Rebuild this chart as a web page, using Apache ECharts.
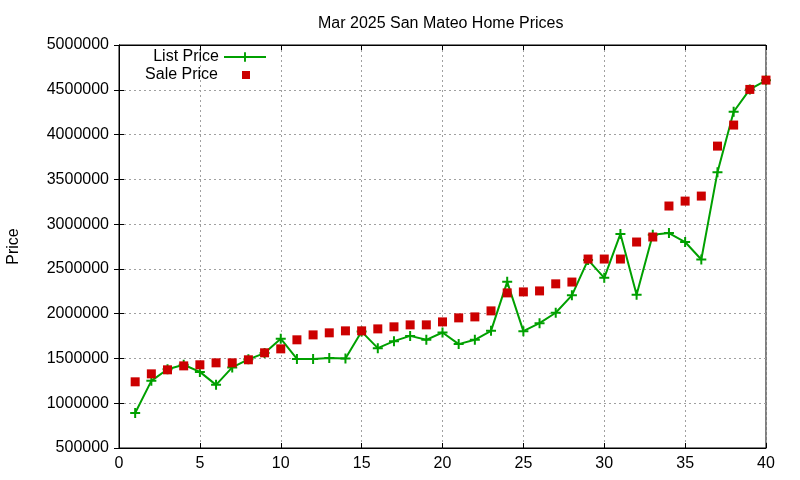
<!DOCTYPE html>
<html><head><meta charset="utf-8">
<script src="https://cdn.jsdelivr.net/npm/echarts@6/dist/echarts.min.js"></script>
<style>html,body{margin:0;padding:0;background:#fff}#c{width:800px;height:480px}</style>
</head><body><div id="c"></div>
<script>
const xs = [1,2,3,4,5,6,7,8,9,10,11,12,13,14,15,16,17,18,19,20,21,22,23,24,25,26,27,28,29,30,31,32,33,34,35,36,37,38,39,40];
const listPrice = [890000,1250000,1380000,1430000,1350000,1205000,1400000,1490000,1560000,1720000,
  1495000,1495000,1505000,1500000,1800000,1615000,1693000,1752000,1708000,1790000,
  1660000,1708000,1808000,2355000,1805000,1894000,2010000,2205000,2600000,2400000,
  2890000,2212000,2880000,2900000,2800000,2605000,3580000,4255000,4504000,4605000];
const salePrice = [1239000,1328000,1373000,1417000,1429000,1451000,1451000,1485000,1563000,1607000,
  1708000,1763000,1786000,1808000,1808000,1830000,1853000,1875000,1875000,1908000,
  1953000,1964000,2031000,2232000,2243000,2254000,2333000,2353000,2610000,2610000,
  2610000,2800000,2856000,3202000,3257000,3313000,3871000,4106000,4504000,4608000];
const xTicks = {min: 0, max: 40, interval: 5};
const yTicks = {min: 500000, max: 5000000, interval: 500000};

const FONT = 'Liberation Sans, Arial, sans-serif';
const plus = 'path://M-1,-5L1,-5L1,-1L5,-1L5,1L1,1L1,5L-1,5L-1,1L-5,1L-5,-1L-1,-1Z';
const grid = {left: 119, right: 34, top: 45, bottom: 32, show: true, borderColor: '#000', borderWidth: 1,
  backgroundColor: 'transparent', containLabel: false, outerBoundsMode: 'none'};
const split = {show: true, lineStyle: {color: '#a0a0a0', type: [2, 3], width: 1}};
const tick = {show: true, inside: true, length: 5, lineStyle: {color: '#000'}};
const lbl = {color: '#000', fontSize: 16, fontFamily: FONT};

const chart = echarts.init(document.getElementById('c'), null, {renderer: 'canvas'});
chart.setOption({
  animation: false,
  textStyle: {fontFamily: FONT},
  title: {text: 'Mar 2025 San Mateo Home Prices', left: 313, top: 11,
    textStyle: {fontSize: 16, fontWeight: 'normal', color: '#000', fontFamily: FONT}},
  grid: grid,
  legend: [
    {data: ['List Price'], orient: 'vertical', right: 528, top: 44, align: 'right',
      itemWidth: 42, itemHeight: 12, textStyle: lbl},
    {data: [{name: 'Sale Price', icon: 'rect'}], orient: 'vertical', right: 545, top: 62, align: 'right',
      itemWidth: 8, itemHeight: 8, textStyle: Object.assign({padding: [0, 19, 0, 0]}, lbl)}
  ],
  xAxis: [
    {type: 'value', position: 'bottom', min: xTicks.min, max: xTicks.max, interval: xTicks.interval,
      axisLine: {show: true, lineStyle: {color: '#000'}}, axisTick: tick, splitLine: split,
      axisLabel: Object.assign({margin: 8}, lbl)},
    {type: 'value', position: 'top', min: xTicks.min, max: xTicks.max, interval: xTicks.interval,
      axisLine: {show: true, lineStyle: {color: '#000'}}, axisTick: tick, splitLine: {show: false},
      axisLabel: {show: false}}
  ],
  yAxis: [
    {type: 'value', position: 'left', min: yTicks.min, max: yTicks.max, interval: yTicks.interval,
      name: 'Price', nameLocation: 'middle', nameGap: 97, nameRotate: 90,
      nameTextStyle: {fontSize: 16, color: '#000', fontFamily: FONT},
      axisLine: {show: true, lineStyle: {color: '#000'}}, axisTick: tick, splitLine: split,
      axisLabel: Object.assign({margin: 10, formatter: v => String(v)}, lbl)},
    {type: 'value', position: 'right', min: yTicks.min, max: yTicks.max, interval: yTicks.interval,
      axisLine: {show: true, lineStyle: {color: '#000'}}, axisTick: tick, splitLine: {show: false},
      axisLabel: {show: false}}
  ],
  series: [
    {name: 'List Price', type: 'line', data: xs.map((x, i) => [x, listPrice[i]]),
      symbol: plus, symbolSize: 10, showAllSymbol: true,
      lineStyle: {color: '#00a000', width: 2}, itemStyle: {color: '#00a000'}, z: 2},
    {name: 'Sale Price', type: 'scatter', data: xs.map((x, i) => [x, salePrice[i]]),
      symbol: 'rect', symbolSize: 9, itemStyle: {color: '#cc0000', opacity: 1}, z: 3}
  ]
});
</script></body></html>
